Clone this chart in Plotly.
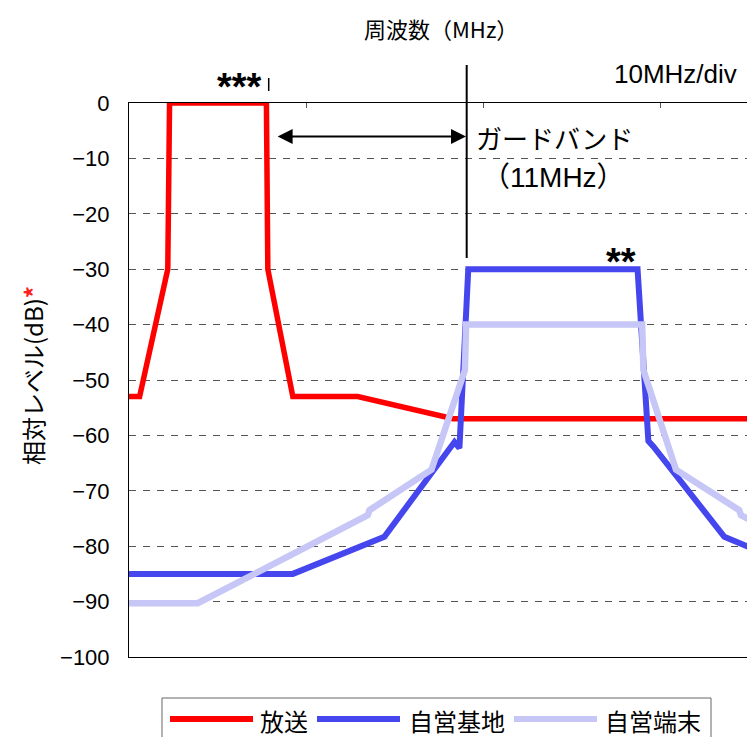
import plotly.graph_objects as go

# ---------------- data (relative frequency in MHz, level in dB) ----------------
series_names = ["放送", "自営基地", "自営端末"]
series_colors = ["#FF0000", "#4646EE", "#C6C6F7"]

freq_bc = [0, 0.6, 2.19, 2.29, 7.76, 7.84, 9.25, 12.92, 18.3, 34.9]
level_bc = [-53, -53, -30, 0, 0, -30, -53, -53, -57, -57]

freq_base = [0, 9.25, 14.42, 18.38, 18.66, 19.16, 28.72, 29.33, 29.61, 33.62, 38.7, 40]
level_base = [-85, -85, -78.3, -61.2, -62.3, -30, -30, -61, -62, -78.3, -85, -85]

freq_term = [0, 3.88, 13.48, 13.58, 17.08, 18.97, 19.04, 28.98, 29.05, 30.89, 34.46, 34.56, 44.15]
level_term = [-90.3, -90.3, -74.4, -73.5, -66.2, -48.2, -40, -40, -48.2, -66.2, -73.5, -74.4, -90.3]

y_ticks = [-100, -90, -80, -70, -60, -50, -40, -30, -20, -10, 0]
x_ticks = [10, 20, 30]

# ---------------- layout helpers (page pixel -> paper coords) ----------------
FIG_W, FIG_H = 747, 737
ML, MT, MB, MR = 129, 103, 80, 0
PW = FIG_W - ML - MR
PH = FIG_H - MT - MB


def px_x(p):
    return (p - ML) / PW


def px_y(p):
    return (MT + PH - p) / PH


LATIN = "Liberation Sans, Arial, Noto Sans CJK JP, sans-serif"
CJK = "Noto Sans CJK JP, sans-serif"

fig = go.Figure()
xs = [freq_bc, freq_base, freq_term]
ys = [level_bc, level_base, level_term]
widths = [5.5, 6, 6.5]
for name, color, x, y, w in zip(series_names, series_colors, xs, ys, widths):
    fig.add_trace(go.Scatter(x=x, y=y, mode="lines", name=name,
                             line=dict(color=color, width=w),
                             showlegend=False, hoverinfo="skip"))

fig.update_layout(
    width=FIG_W, height=FIG_H,
    margin=dict(l=ML, r=MR, t=MT, b=MB),
    paper_bgcolor="white", plot_bgcolor="white",
    showlegend=False,
)
fig.update_xaxes(
    range=[0, 34.9], side="top", showline=True, linecolor="black", linewidth=1,
    mirror=True, showgrid=False, zeroline=False,
    tickvals=x_ticks, ticks="inside", ticklen=5, tickcolor="#555",
    showticklabels=False,
)
fig.update_yaxes(
    range=[-100, 0], showline=True, linecolor="black", linewidth=1,
    mirror=False, zeroline=False,
    tickvals=y_ticks, ticks="", showgrid=True, gridcolor="#555",
    griddash="7px,7px", gridwidth=1,
    tickfont=dict(family=LATIN, size=22, color="black"),
    ticklabelstandoff=14,
)


def note(text, x, y, size, family=CJK, xanchor="center", **kw):
    d = dict(text=text, xref="paper", yref="paper", x=px_x(x), y=px_y(y),
             xanchor=xanchor, yanchor="middle", showarrow=False,
             font=dict(family=family, size=size, color="black"))
    d.update(kw)
    return d


ann = []
ann.append(note("周波数（MHz）", 441, 28, 22))
ann.append(note("相対レベル(dB)<b><span style='color:#FF2020'>*</span></b>",
                32, 376, 24, textangle=-90))
ann.append(note("10MHz/div", 739, 74, 26, family=LATIN, xanchor="right"))
ann.append(note("<b>***</b>", 239, 87, 38, family=LATIN))
ann.append(note("<b>**</b>", 621, 262, 38, family=LATIN))
ann.append(note("ガードバンド", 474, 137, 26, xanchor="left"))
ann.append(note("（11MHz）", 480, 177, 28, family=LATIN, xanchor="left"))
# guard band arrow (data coordinates)
ann.append(dict(text="", x=19.03, y=-6.03, ax=8.31, ay=-6.03,
                xref="x", yref="y", axref="x", ayref="y",
                showarrow=True, arrowhead=2, arrowside="end+start",
                arrowwidth=2, arrowsize=1.5, arrowcolor="black",
                standoff=0, startstandoff=0))

shapes = []
shapes.append(dict(type="line", xref="x", yref="paper", x0=19.07, x1=19.07,
                   y0=px_y(65), y1=px_y(258), line=dict(color="black", width=2)))
shapes.append(dict(type="line", xref="x", yref="paper", x0=7.89, x1=7.89,
                   y0=px_y(78), y1=px_y(91), line=dict(color="black", width=1.5)))

# custom legend
shapes.append(dict(type="rect", xref="paper", yref="paper",
                   x0=px_x(162), x1=px_x(711), y0=px_y(698), y1=px_y(760),
                   line=dict(color="#666", width=1), fillcolor="white", layer="below"))
leg_line = [(170, 253), (317, 400), (514, 597)]
leg_text = [258, 407, 603]
for name, color, (a, b), t in zip(series_names, series_colors, leg_line, leg_text):
    shapes.append(dict(type="line", xref="paper", yref="paper",
                       x0=px_x(a), x1=px_x(b), y0=px_y(719), y1=px_y(719),
                       line=dict(color=color, width=6)))
    ann.append(note(name, t, 720, 24, xanchor="left"))

fig.update_layout(annotations=ann, shapes=shapes)
fig.write_html(
    "out.html",
    config={"displayModeBar": False},
    post_script=(
        "document.documentElement.style.margin='0';"
        "document.body.style.margin='0';"
        "document.documentElement.style.overflow='hidden';"
        "document.body.style.overflow='hidden';"
    ),
)
